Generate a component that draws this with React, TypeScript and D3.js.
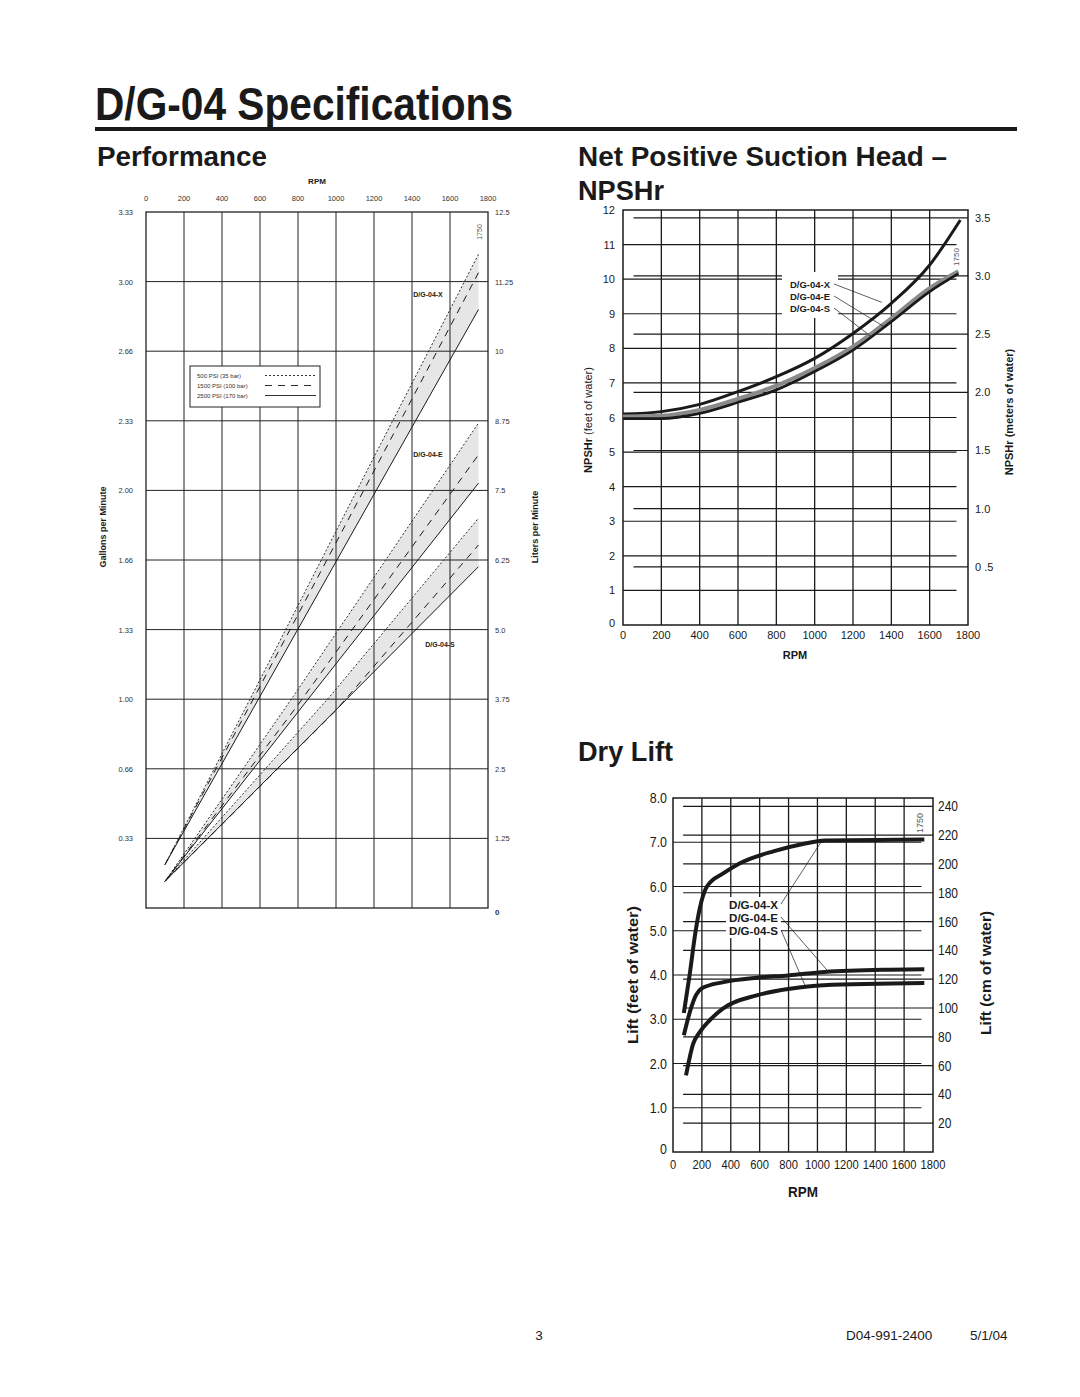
import React from "react";
import * as d3 from "d3";

const FONT = "'Liberation Sans', Arial, Helvetica, sans-serif";
const NARROW = "'Liberation Sans Narrow', 'Liberation Sans', Arial, sans-serif";
const INK = "#1a1a1a";

// ---------- Performance (flow vs RPM) ----------
const perfRpmTicks = [0, 200, 400, 600, 800, 1000, 1200, 1400, 1600, 1800];
const perfLpmTicks = [0, 1.25, 2.5, 3.75, 5, 6.25, 7.5, 8.75, 10, 11.25, 12.5];
const perfLpmLabels = ["0", "1.25", "2.5", "3.75", "5.0", "6.25", "7.5", "8.75", "10", "11.25", "12.5"];
const perfGpmLabels = ["", "0.33", "0.66", "1.00", "1.33", "1.66", "2.00", "2.33", "2.66", "3.00", "3.33"];

// [rpm, liters per minute]
const perfX500 = [[100, 0.78], [600, 4.1], [1200, 8.1], [1750, 11.74]];
const perfX1500 = [[100, 0.78], [600, 3.98], [1200, 7.85], [1750, 11.41]];
const perfX2500 = [[100, 0.78], [600, 3.8], [1200, 7.43], [1750, 10.75]];
const perfE500 = [[100, 0.48], [775, 3.8], [1750, 8.71]];
const perfE1500 = [[100, 0.48], [800, 3.65], [1750, 8.14]];
const perfE2500 = [[100, 0.48], [846, 3.72], [1750, 7.63]];
const perfS500 = [[100, 0.48], [968, 3.8], [1750, 7.0]];
const perfS1500 = [[100, 0.48], [1000, 3.55], [1750, 6.52]];
const perfS2500 = [[100, 0.48], [1056, 3.75], [1750, 6.13]];

const perfModels = [
  { name: "D/G-04-X", lines: [perfX500, perfX1500, perfX2500] },
  { name: "D/G-04-E", lines: [perfE500, perfE1500, perfE2500] },
  { name: "D/G-04-S", lines: [perfS500, perfS1500, perfS2500] },
];
const pressureLabels = ["500 PSI (35 bar)", "1500 PSI (100 bar)", "2500 PSI (170 bar)"];
const pressureDash = ["2,2", "7,6", ""];

// ---------- NPSHr ----------
const npshRpmTicks = [0, 200, 400, 600, 800, 1000, 1200, 1400, 1600, 1800];
const npshFeetTicks = [0, 1, 2, 3, 4, 5, 6, 7, 8, 9, 10, 11, 12];
const npshMeterTicks = [0.5, 1.0, 1.5, 2.0, 2.5, 3.0, 3.5];
const npshMeterLabels = ["0 .5", "1.0", "1.5", "2.0", "2.5", "3.0", "3.5"];

// [rpm, feet of water]
const npshX = [[0, 6.1], [200, 6.17], [400, 6.38], [600, 6.75], [800, 7.18], [1000, 7.71], [1200, 8.43], [1400, 9.3], [1600, 10.41], [1760, 11.71]];
const npshE = [[0, 6.03], [200, 6.05], [400, 6.22], [600, 6.54], [800, 6.92], [1000, 7.43], [1200, 8.05], [1400, 8.87], [1600, 9.74], [1750, 10.23]];
const npshS = [[0, 5.97], [200, 5.97], [400, 6.12], [600, 6.44], [800, 6.8], [1000, 7.33], [1200, 7.95], [1400, 8.77], [1600, 9.64], [1750, 10.16]];

// ---------- Dry Lift ----------
const liftRpmTicks = [0, 200, 400, 600, 800, 1000, 1200, 1400, 1600, 1800];
const liftFeetTicks = [0, 1, 2, 3, 4, 5, 6, 7, 8];
const liftFeetLabels = ["0", "1.0", "2.0", "3.0", "4.0", "5.0", "6.0", "7.0", "8.0"];
const liftCmTicks = [20, 40, 60, 80, 100, 120, 140, 160, 180, 200, 220, 240];

// [rpm, feet of water]
const liftX = [[75, 3.14], [115, 4.0], [157, 5.0], [185, 5.5], [235, 6.0], [350, 6.3], [460, 6.52], [700, 6.8], [900, 6.96], [1050, 7.04], [1740, 7.06]];
const liftE = [[75, 2.64], [120, 3.2], [160, 3.55], [200, 3.7], [350, 3.84], [580, 3.94], [800, 3.99], [1050, 4.07], [1500, 4.12], [1740, 4.13]];
const liftS = [[90, 1.73], [140, 2.45], [185, 2.71], [255, 2.98], [345, 3.24], [580, 3.54], [810, 3.69], [1040, 3.77], [1740, 3.82]];

const modelNames = ["D/G-04-X", "D/G-04-E", "D/G-04-S"];

// condensed look for the dry-lift digits
const narrowLen = (s: string, fs: number) =>
  s.split("").reduce((w, c) => w + (c === "." || c === " " ? 0.23 : 0.46) * fs, 0);

function Performance() {
  const x = d3.scaleLinear().domain([0, 1800]).range([146, 488]);
  const y = d3.scaleLinear().domain([0, 12.5]).range([908, 212]);
  const line = d3.line<number[]>().x((d) => x(d[0])).y((d) => y(d[1]));
  const labelPos = [
    { x: 428, y: 297 },
    { x: 428, y: 457 },
    { x: 440, y: 647 },
  ];
  return (
    <g fontFamily={FONT}>
      {perfModels.map((m) => (
        <path
          key={m.name + "band"}
          d={line([...m.lines[0], ...m.lines[2].slice().reverse()]) + "Z"}
          fill="#e6e6e6"
        />
      ))}
      {perfRpmTicks.slice(1, -1).map((t) => (
        <line key={t} x1={x(t)} x2={x(t)} y1={y(12.5)} y2={y(0)} stroke="#222" strokeWidth={1} />
      ))}
      {perfLpmTicks.slice(1, -1).map((t) => (
        <line key={t} x1={x(0)} x2={x(1800)} y1={y(t)} y2={y(t)} stroke="#222" strokeWidth={1} />
      ))}
      <rect x={x(0)} y={y(12.5)} width={x(1800) - x(0)} height={y(0) - y(12.5)} fill="none" stroke="#222" strokeWidth={1.3} />
      {perfModels.map((m) =>
        m.lines.map((l, i) => (
          <path
            key={m.name + i}
            d={line(l) || ""}
            fill="none"
            stroke={INK}
            strokeWidth={i === 0 ? 0.9 : 1}
            strokeDasharray={pressureDash[i] || undefined}
          />
        ))
      )}
      {modelNames.map((n, i) => (
        <text key={n} x={labelPos[i].x} y={labelPos[i].y} fontSize={7} fontWeight="bold" textAnchor="middle" fill={INK}>
          {n}
        </text>
      ))}
      <text transform={`translate(${x(1750) + 3},232) rotate(-90)`} fontSize={7} fill="#555" textAnchor="middle">
        1750
      </text>
      {/* legend */}
      <rect x={190} y={366} width={130} height={41} fill="#fff" stroke="#222" strokeWidth={1} />
      {pressureLabels.map((lb, i) => (
        <g key={lb}>
          <text x={197} y={378 + i * 10} fontSize={6} fill="#333">
            {lb}
          </text>
          <line x1={265} x2={316} y1={375.5 + i * 10} y2={375.5 + i * 10} stroke={INK} strokeWidth={0.9} strokeDasharray={pressureDash[i] || undefined} />
        </g>
      ))}
      {/* top rpm axis */}
      <text x={317} y={184} fontSize={8} fontWeight="bold" textAnchor="middle" fill={INK}>
        RPM
      </text>
      {perfRpmTicks.map((t) => (
        <text key={t} x={x(t)} y={201} fontSize={7.5} textAnchor="middle" fill="#333">
          {t}
        </text>
      ))}
      {perfGpmLabels.map((lb, i) =>
        lb ? (
          <text key={i} x={133} y={y(perfLpmTicks[i]) + 3} fontSize={7.5} textAnchor="end" fill="#333">
            {lb}
          </text>
        ) : null
      )}
      {perfLpmLabels.map((lb, i) => (
        <text
          key={i}
          x={495}
          y={i === 0 ? y(0) + 7 : y(perfLpmTicks[i]) + 3}
          fontSize={i === 0 ? 8 : 7.5}
          fontWeight={i === 0 ? "bold" : "normal"}
          fill="#333"
        >
          {lb}
        </text>
      ))}
      <text transform="translate(106,527) rotate(-90)" fontSize={9} fontWeight="bold" textAnchor="middle" fill={INK}>
        Gallons per Minute
      </text>
      <text transform="translate(538,527) rotate(-90)" fontSize={9} fontWeight="bold" textAnchor="middle" fill={INK}>
        Liters per Minute
      </text>
    </g>
  );
}

function Npsh() {
  const x = d3.scaleLinear().domain([0, 1800]).range([623, 968]);
  const y = d3.scaleLinear().domain([0, 12]).range([625, 210]);
  const yM = d3.scaleLinear().domain([0, 3.567]).range([625, 210]);
  const line = d3.line<number[]>().x((d) => x(d[0])).y((d) => y(d[1])).curve(d3.curveMonotoneX);
  const labels = [
    { y: 288, tx: x(1350), ty: y(9.33) },
    { y: 300, tx: x(1370), ty: y(8.6) },
    { y: 312, tx: x(1300), ty: y(8.32) },
  ];
  return (
    <g fontFamily={FONT}>
      {npshRpmTicks.slice(1, -1).map((t) => (
        <line key={t} x1={x(t)} x2={x(t)} y1={y(12)} y2={y(0)} stroke={INK} strokeWidth={1.3} />
      ))}
      {npshFeetTicks.slice(1, -1).map((t) => (
        <line key={t} x1={x(0)} x2={x(1740)} y1={y(t)} y2={y(t)} stroke={INK} strokeWidth={1.2} />
      ))}
      {npshMeterTicks.map((t) => (
        <line key={t} x1={x(55)} x2={x(1800)} y1={yM(t)} y2={yM(t)} stroke={INK} strokeWidth={1.2} />
      ))}
      <rect x={x(0)} y={y(12)} width={x(1800) - x(0)} height={y(0) - y(12)} fill="none" stroke={INK} strokeWidth={1.5} />
      {/* label block background */}
      <rect x={782} y={272} width={56} height={46} fill="#fff" />
      <path d={line(npshX) || ""} fill="none" stroke={INK} strokeWidth={3} />
      <path d={line(npshE) || ""} fill="none" stroke="#8a8a8a" strokeWidth={4} />
      <path d={line(npshS) || ""} fill="none" stroke={INK} strokeWidth={2.8} />
      {modelNames.map((n, i) => (
        <g key={n}>
          <text x={830} y={labels[i].y} fontSize={9.5} fontWeight="bold" textAnchor="end" fill={INK}>
            {n}
          </text>
          <line x1={834} y1={labels[i].y - 4} x2={labels[i].tx} y2={labels[i].ty} stroke={INK} strokeWidth={0.7} />
        </g>
      ))}
      <text transform={`translate(${x(1750) + 1},257) rotate(-90)`} fontSize={8} fill="#555" textAnchor="middle">
        1750
      </text>
      {npshFeetTicks.map((t) => (
        <text key={t} x={615} y={y(t) + (t === 0 ? 2 : 4)} fontSize={11} textAnchor="end" fill={INK}>
          {t}
        </text>
      ))}
      {npshMeterTicks.map((t, i) => (
        <text key={t} x={975} y={yM(t) + 4} fontSize={11} fill={INK}>
          {npshMeterLabels[i]}
        </text>
      ))}
      {npshRpmTicks.map((t) => (
        <text key={t} x={x(t)} y={639} fontSize={11} textAnchor="middle" fill={INK}>
          {t}
        </text>
      ))}
      <text x={795} y={659} fontSize={11} fontWeight="bold" textAnchor="middle" fill={INK}>
        RPM
      </text>
      <text transform="translate(592,420) rotate(-90)" fontSize={11} textAnchor="middle" fill={INK}>
        <tspan fontWeight="bold">NPSHr</tspan> (feet of water)
      </text>
      <text transform="translate(1013,412) rotate(-90)" fontSize={11} fontWeight="bold" textAnchor="middle" fill={INK}>
        NPSHr (meters of water)
      </text>
    </g>
  );
}

function DryLift() {
  const x = d3.scaleLinear().domain([0, 1800]).range([673, 933]);
  const y = d3.scaleLinear().domain([0, 8]).range([1152, 798]);
  const yCm = d3.scaleLinear().domain([0, 245.8]).range([1152, 798]);
  const line = d3.line<number[]>().x((d) => x(d[0])).y((d) => y(d[1])).curve(d3.curveMonotoneX);
  const labels = [
    { y: 909, tx: x(1030), ty: y(7.03) },
    { y: 922, tx: x(1085), ty: y(4.04) },
    { y: 935, tx: x(920), ty: y(3.72) },
  ];
  return (
    <g fontFamily={NARROW}>
      {liftRpmTicks.slice(1, -1).map((t) => (
        <line key={t} x1={x(t)} x2={x(t)} y1={y(8)} y2={y(0)} stroke={INK} strokeWidth={1.3} />
      ))}
      {liftFeetTicks.slice(1, -1).map((t) => (
        <line key={t} x1={x(0)} x2={x(1720)} y1={y(t)} y2={y(t)} stroke={INK} strokeWidth={1.2} />
      ))}
      {liftCmTicks.map((t) => (
        <line key={t} x1={x(70)} x2={x(1800)} y1={yCm(t)} y2={yCm(t)} stroke={INK} strokeWidth={1.2} />
      ))}
      <rect x={x(0)} y={y(8)} width={x(1800) - x(0)} height={y(0) - y(8)} fill="none" stroke={INK} strokeWidth={1.5} />
      <rect x={726} y={897} width={55} height={41} fill="#fff" />
      <path d={line(liftX) || ""} fill="none" stroke={INK} strokeWidth={4} />
      <path d={line(liftE) || ""} fill="none" stroke={INK} strokeWidth={4} />
      <path d={line(liftS) || ""} fill="none" stroke={INK} strokeWidth={4} />
      {modelNames.map((n, i) => (
        <g key={n}>
          <text x={778} y={labels[i].y} fontSize={11.5} fontWeight="bold" textAnchor="end" fill={INK}
            textLength={49} lengthAdjust="spacingAndGlyphs">
            {n}
          </text>
          <line x1={781} y1={labels[i].y - 5} x2={labels[i].tx} y2={labels[i].ty} stroke={INK} strokeWidth={0.7} />
        </g>
      ))}
      <text transform={`translate(${x(1750) - 3},823) rotate(-90)`} fontSize={9} fill="#555" textAnchor="middle" fontFamily={FONT}>
        1750
      </text>
      {liftFeetTicks.map((t, i) => (
        <text key={t} x={667} y={y(t) + (t === 0 ? 2 : 5)} fontSize={14} textAnchor="end" fill={INK}
          textLength={narrowLen(liftFeetLabels[i], 15)} lengthAdjust="spacingAndGlyphs">
          {liftFeetLabels[i]}
        </text>
      ))}
      {liftCmTicks.map((t) => (
        <text key={t} x={938} y={yCm(t) + 5} fontSize={14} fill={INK}
          textLength={narrowLen(String(t), 14.5)} lengthAdjust="spacingAndGlyphs">
          {t}
        </text>
      ))}
      {liftRpmTicks.map((t) => (
        <text key={t} x={x(t)} y={1169} fontSize={13.5} textAnchor="middle" fill={INK}
          textLength={narrowLen(String(t), 13.5)} lengthAdjust="spacingAndGlyphs">
          {t}
        </text>
      ))}
      <text x={803} y={1197} fontSize={15} fontWeight="bold" textAnchor="middle" fill={INK}
        textLength={30} lengthAdjust="spacingAndGlyphs">
        RPM
      </text>
      <text transform="translate(638,975) rotate(-90)" fontSize={15} fontWeight="bold" textAnchor="middle" fill={INK}
        textLength={138} lengthAdjust="spacingAndGlyphs">
        Lift (feet of water)
      </text>
      <text transform="translate(991,973) rotate(-90)" fontSize={15} fontWeight="bold" textAnchor="middle" fill={INK}
        textLength={124} lengthAdjust="spacingAndGlyphs">
        Lift (cm of water)
      </text>
    </g>
  );
}

export default function App() {
  return (
    <svg
      width={1080}
      height={1397}
      style={{ position: "absolute", left: 0, top: 0, background: "#fff" }}
    >
      <rect width={1080} height={1397} fill="#fff" />
      <g fontFamily={NARROW} fill={INK} fontWeight="bold">
        <text x={95} y={120} fontSize={46} textLength={418} lengthAdjust="spacingAndGlyphs">
          D/G-04 Specifications
        </text>
        <text x={97} y={166} fontSize={27} textLength={170} lengthAdjust="spacingAndGlyphs">
          Performance
        </text>
        <text x={578} y={166} fontSize={27} textLength={369} lengthAdjust="spacingAndGlyphs">
          Net Positive Suction Head –
        </text>
        <text x={578} y={200} fontSize={27} textLength={86} lengthAdjust="spacingAndGlyphs">
          NPSHr
        </text>
        <text x={578} y={761} fontSize={27} textLength={95} lengthAdjust="spacingAndGlyphs">
          Dry Lift
        </text>
      </g>
      <line x1={95} x2={1017} y1={129} y2={129} stroke={INK} strokeWidth={4} />
      <Performance />
      <Npsh />
      <DryLift />
      <g fontFamily={FONT} fontSize={13.5} fill={INK}>
        <text x={539} y={1340} textAnchor="middle">3</text>
        <text x={846} y={1340}>D04-991-2400</text>
        <text x={970} y={1340}>5/1/04</text>
      </g>
    </svg>
  );
}
